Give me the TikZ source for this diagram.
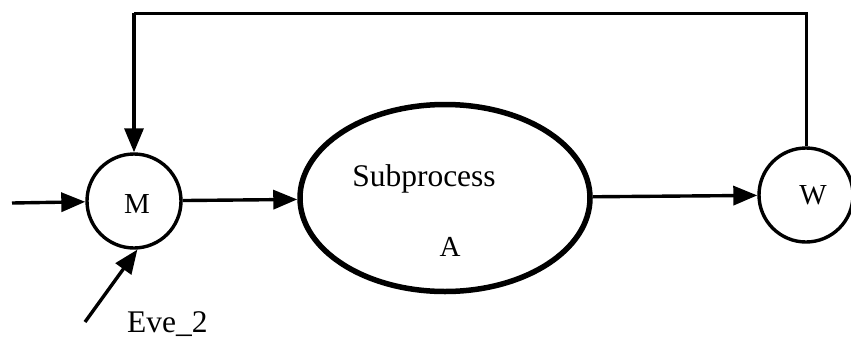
\documentclass[tikz,border=0pt]{standalone}
\usepackage{fontspec}
\setmainfont{Liberation Serif}
\usetikzlibrary{arrows.meta,shapes.geometric}

\tikzset{
  state/.style={draw, circle, line width=3.4pt, minimum size=94pt, inner sep=0pt},
  proc/.style={draw, ellipse, line width=5.5pt, minimum width=290pt, minimum height=187pt, inner sep=0pt},
  flow/.style={line width=3.4pt, -{Triangle[length=24pt,width=19pt]}},
  wire/.style={line width=3pt},
  big/.style={font=\fontsize{31.5}{36}\selectfont, inner sep=0pt},
  mid/.style={font=\fontsize{29}{32}\selectfont, inner sep=0pt},
}

\begin{document}
\begin{tikzpicture}[x=1pt, y=-1pt]
  \useasboundingbox (0,0) rectangle (851,343);

  % process nodes
  \node[state] (M) at (134,201) {};
  \node[proc]  (S) at (445,198) {};
  \node[state] (W) at (806,195) {};

  % labels inside the nodes
  \node[mid, anchor=base] (Mt) at (137,213) {M};
  \node[mid, anchor=base] (Wt) at (813,204) {W};
  \node[big, anchor=base] (St) at (424,186) {Subprocess};
  \node[mid, anchor=base] (At) at (450,256) {A};
  \node[big, anchor=base west] (Ev) at (127,332) {Eve\_2};

  % free ends of the incoming connectors
  \coordinate (in) at (12,203);
  \coordinate (ev) at (85,322);
  \coordinate (top) at (0,13);

  % connectors
  \draw[flow] (in) -- (M);
  \draw[flow] (ev) -- (M.-86);
  \draw[flow] (M) -- (S);
  \draw[flow] (S) -- (W);
  \draw[wire] (W.north) -- (W.north |- top) -- (M.north |- top);
  \draw[flow] (M.north |- top) -- (M.north);
\end{tikzpicture}
\end{document}
